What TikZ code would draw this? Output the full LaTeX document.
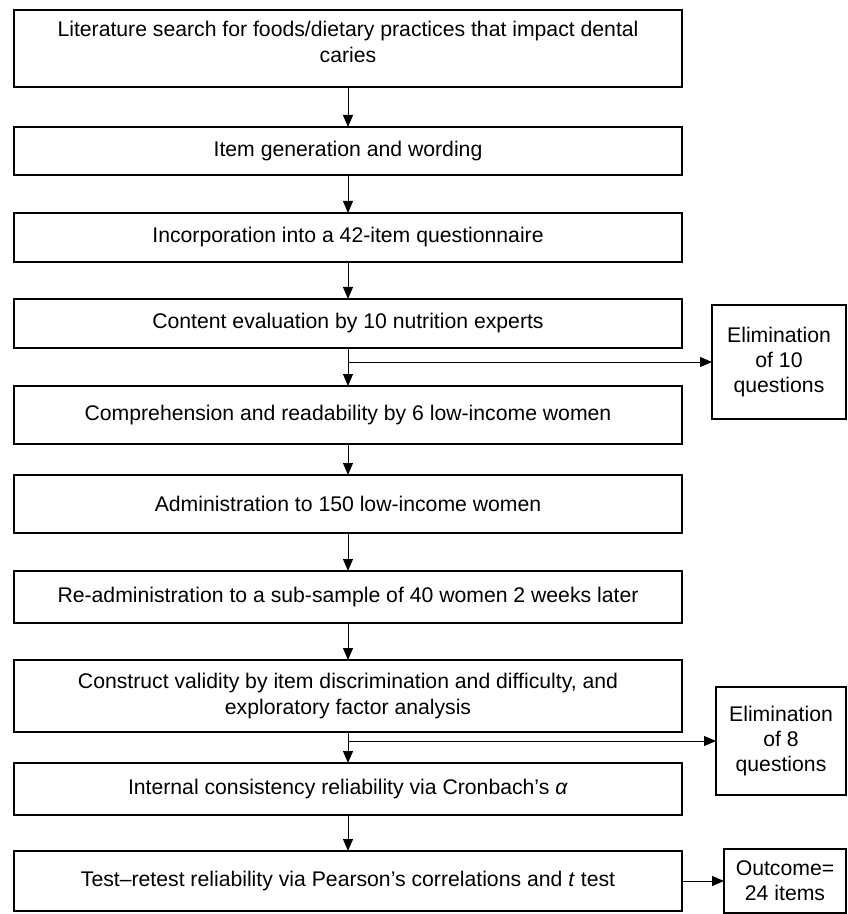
\documentclass[tikz,border=0pt]{standalone}
\usepackage{fontspec}
\setmainfont{Liberation Sans}
\usetikzlibrary{arrows.meta}

\begin{document}
\begin{tikzpicture}[x=0.5pt,y=-0.5pt,
		stage/.style={shape=rectangle,draw,line width=.6pt,minimum width=334pt,align=center,inner sep=2pt,outer sep=0pt,font=\fontsize{10.6}{13}\selectfont},
		side/.style={shape=rectangle,draw,line width=.6pt,align=center,inner sep=2pt,outer sep=0pt,font=\fontsize{10.6}{12.6}\selectfont},
		flow/.style={-{Triangle[length=6pt,width=5pt]},line width=.5pt}]
		\useasboundingbox (0,0) rectangle (847,914);
		\node (lit) at (348,48.5) [stage,minimum height=38.5pt] {Literature search for foods/dietary practices that impact dental\\caries\\[-6.5pt]\mbox{}};
		\node (gen) at (348,151) [stage,minimum height=24pt] {Item generation and wording};
		\node (quest) at (348,237.5) [stage,minimum height=24.5pt] {Incorporation into a 42-item questionnaire};
		\node (content) at (348,323.5) [stage,minimum height=24.5pt] {Content evaluation by 10 nutrition experts};
		\node (compr) at (348,415) [stage,minimum height=29pt] {Comprehension and readability by 6 low-income women};
		\node (admin) at (348,504) [stage,minimum height=29pt] {Administration to 150 low-income women};
		\node (readmin) at (348,597) [stage,minimum height=26pt] {Re-administration to a sub-sample of 40 women 2 weeks later};
		\node (construct) at (348,696) [stage,minimum height=36pt] {Construct validity by item discrimination and difficulty, and\\exploratory factor analysis};
		\node (internal) at (348,789) [stage,minimum height=26pt] {Internal consistency reliability via Cronbach’s \textit{α}};
		\node (retest) at (348,881) [stage,minimum height=30pt] {Test–retest reliability via Pearson’s correlations and \textit{t} test};
		\node (elimten) at (779,362) [side,minimum width=67pt,minimum height=57pt] {Elimination\\of 10\\questions};
		\node (elimeight) at (781,741) [side,minimum width=65pt,minimum height=54pt] {Elimination\\of 8\\questions};
		\node (outcome) at (785,881) [side,minimum width=61pt,minimum height=32pt] {Outcome=\\24 items};
		\coordinate (splitten) at (348,362);
		\coordinate (spliteight) at (348,741);
		\draw [flow] (lit) -- (gen);
		\draw [flow] (gen) -- (quest);
		\draw [flow] (quest) -- (content);
		\draw [flow] (content) -- (compr);
		\draw [flow] (compr) -- (admin);
		\draw [flow] (admin) -- (readmin);
		\draw [flow] (readmin) -- (construct);
		\draw [flow] (construct) -- (internal);
		\draw [flow] (internal) -- (retest);
		\draw [flow] (splitten) -- (elimten);
		\draw [flow] (spliteight) -- (elimeight);
		\draw [flow] (retest) -- (outcome);
	\end{tikzpicture}
\end{document}
